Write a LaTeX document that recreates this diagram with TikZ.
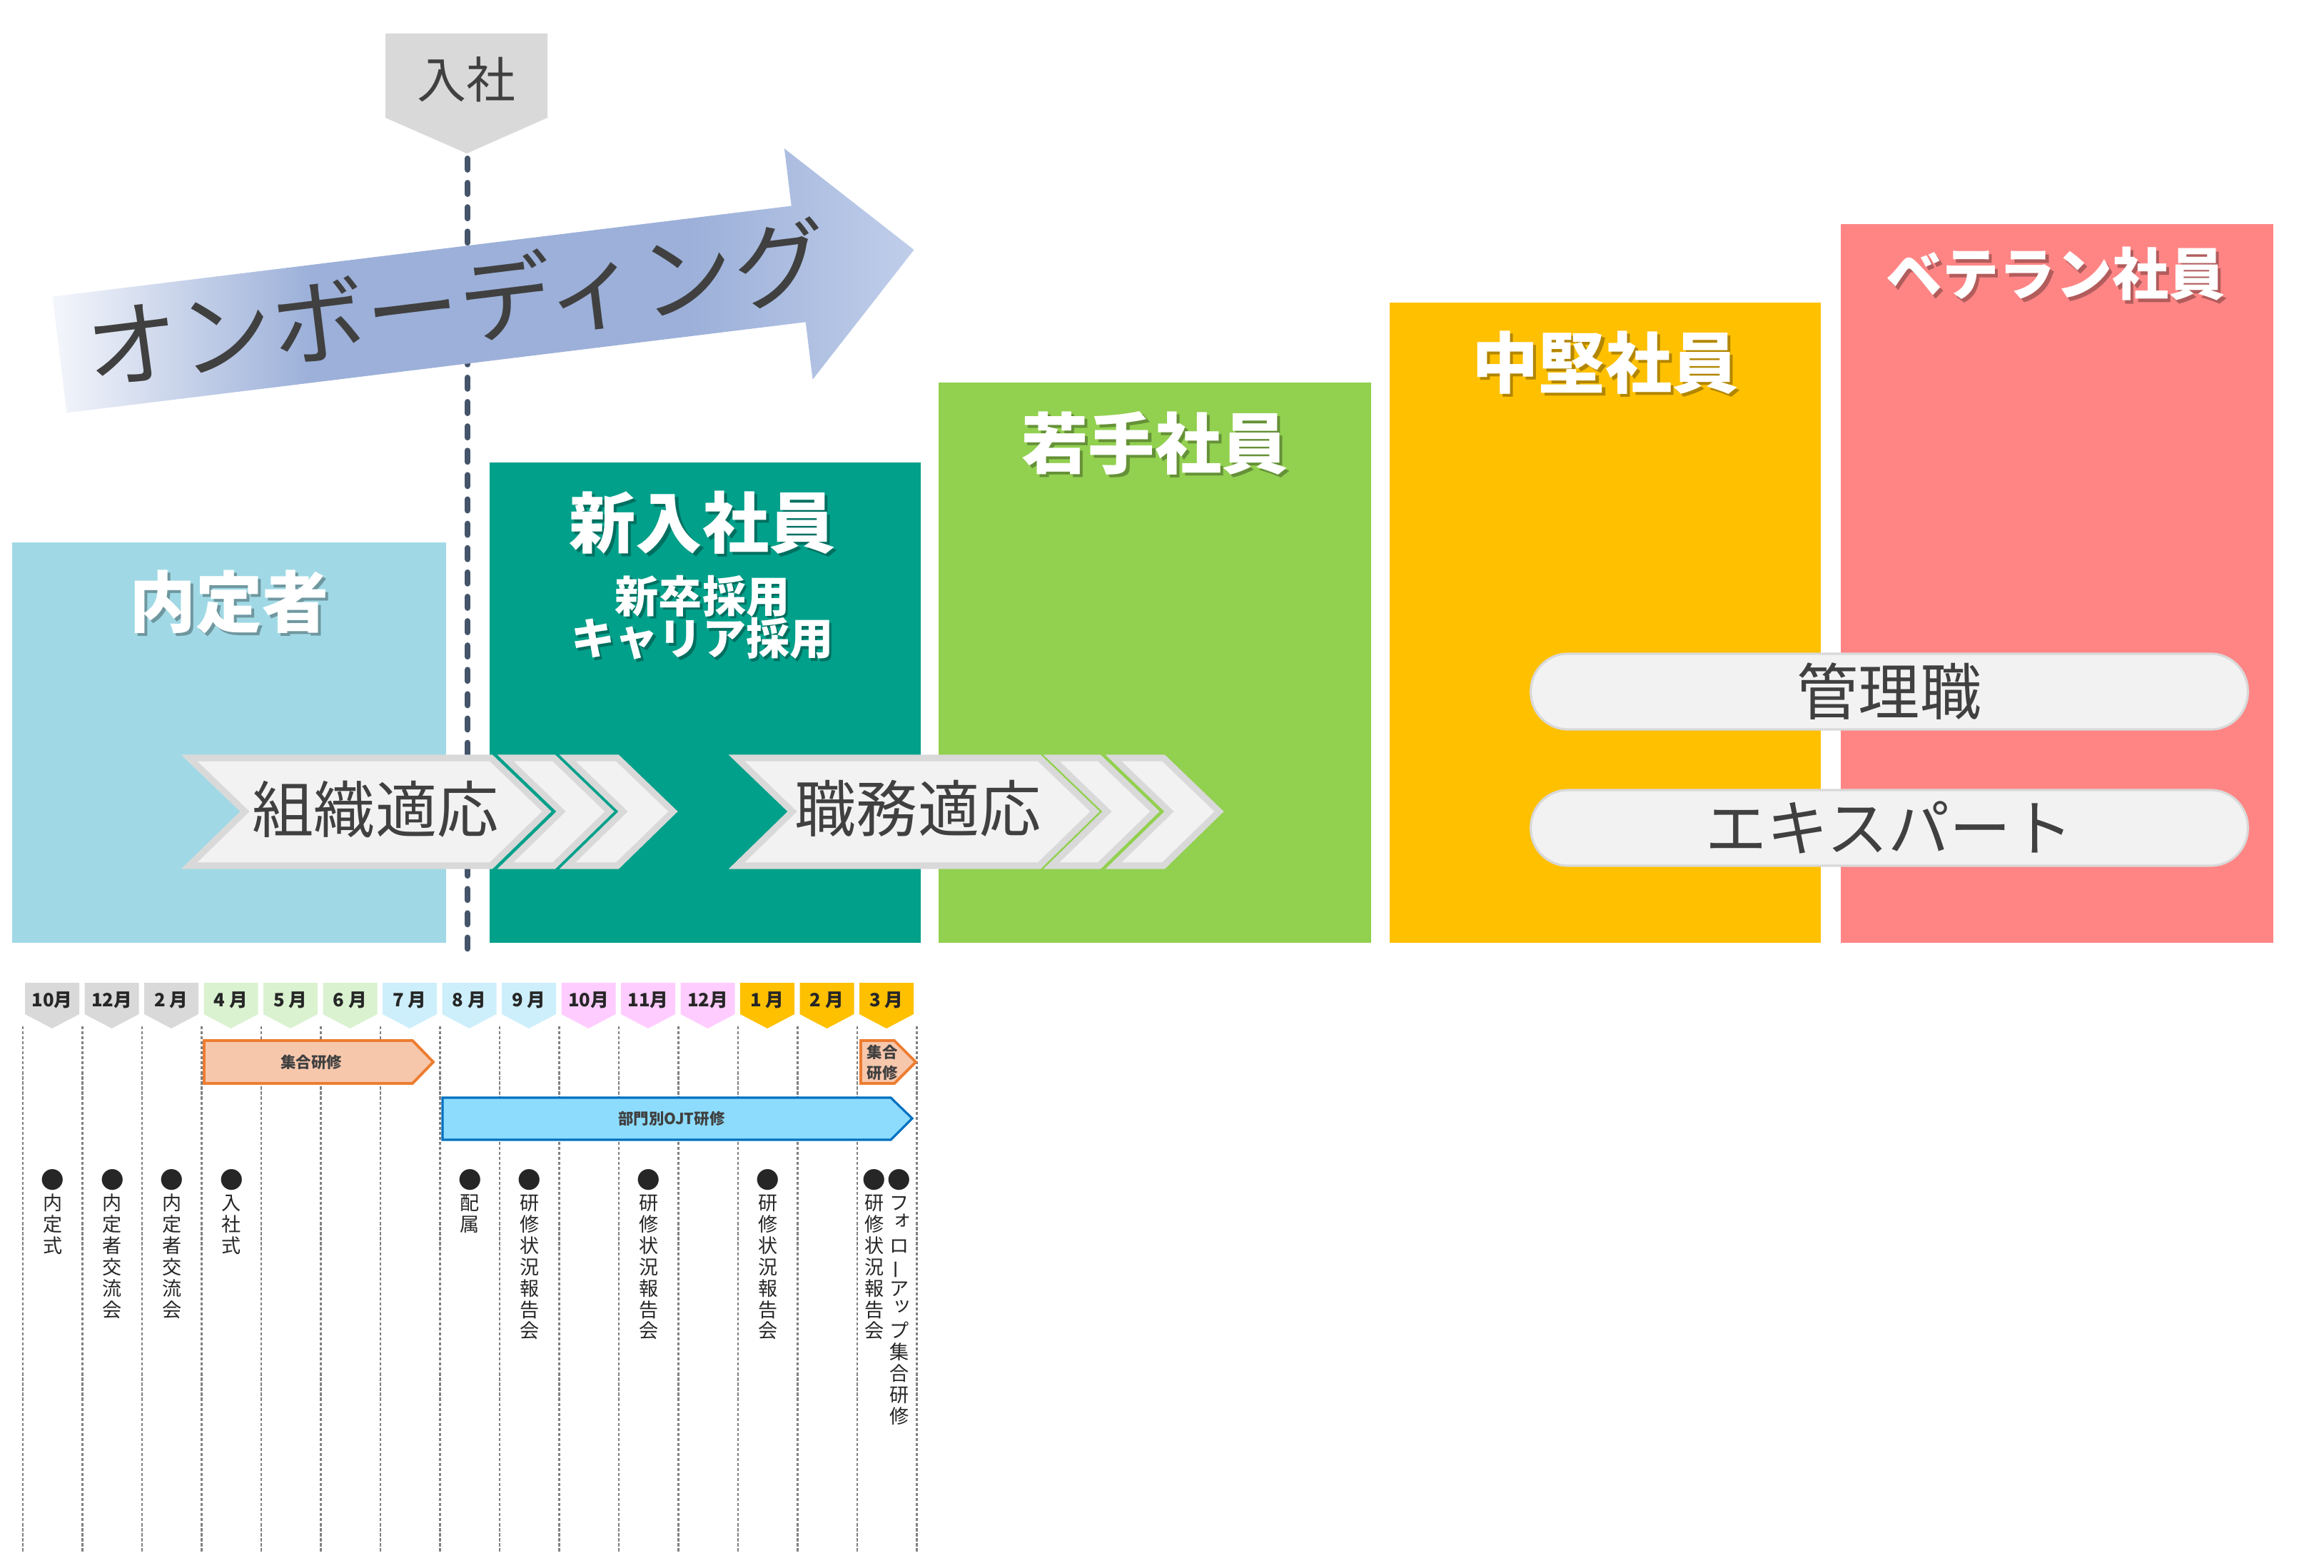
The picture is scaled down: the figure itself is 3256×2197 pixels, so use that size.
\documentclass[tikz,border=0pt]{standalone}
\usepackage{fontspec}
\setmainfont{Noto Sans CJK JP}

\definecolor{cNaitei}{HTML}{A0D9E5}
\definecolor{cShinnyu}{HTML}{00A08A}
\definecolor{cWakate}{HTML}{92D050}
\definecolor{cChuken}{HTML}{FFC000}
\definecolor{cVeteran}{HTML}{FF8585}
\definecolor{cText}{HTML}{404040}
\definecolor{cLine}{HTML}{44546A}
\definecolor{cChevF}{HTML}{F2F2F2}
\definecolor{cChevD}{HTML}{D9D9D9}
\definecolor{onbL}{HTML}{F4F6FB}
\definecolor{onbM}{HTML}{9CB0D9}
\definecolor{onbR}{HTML}{C0CEEA}
\definecolor{tgGray}{HTML}{D9D9D9}
\definecolor{tgGreen}{HTML}{DAF2D0}
\definecolor{tgBlue}{HTML}{CDEFFB}
\definecolor{tgPink}{HTML}{FFCCFF}
\definecolor{tgGold}{HTML}{FFC000}
\definecolor{orgF}{HTML}{F7C7AC}
\definecolor{orgD}{HTML}{ED7D31}
\definecolor{bluF}{HTML}{8DDCFD}
\definecolor{bluD}{HTML}{0070C0}

\pgfdeclarehorizontalshading{onbshade}{100bp}{color(0bp)=(onbL); color(25bp)=(onbL); color(40bp)=(onbM); color(62bp)=(onbM); color(75bp)=(onbR); color(100bp)=(onbR)}

% chevron: left edge, right edge of the straight part
\newcommand{\chevron}[2]{%
  \filldraw[chev] (#1,1062) -- (#2,1062) -- ({#2+78},1137) -- (#2,1213) -- (#1,1213) -- ({#1+78},1137) -- cycle;}
% bullet, small kana and long bar in vertical text
\newcommand{\tdot}{\smash{\scalebox{1.2}{●}}}
\newcommand{\tsk}[1]{\hspace{0.3em}\smash{\raisebox{0.28em}{#1}}}
\newcommand{\tbar}{\smash{\rotatebox[origin=c]{90}{ー}}}

\begin{document}
\begin{tikzpicture}[x=0.01cm, y=-0.01cm, line join=round,
    ttl/.style={font=\bfseries\fontsize{26.5pt}{30pt}\selectfont, text=white, inner sep=0},
    ttlsh/.style={ttl, text=black, opacity=0.3, xshift=1.2pt, yshift=-1.2pt},
    sub/.style={ttl, font=\bfseries\fontsize{17.4pt}{20pt}\selectfont},
    subsh/.style={sub, text=black, opacity=0.3, xshift=1pt, yshift=-1pt},
    lbl/.style={font=\fontsize{24.5pt}{28pt}\selectfont, text=cText, inner sep=0},
    chev/.style={fill=cChevF, draw=cChevD, line width=2.6pt, line join=miter},
    pill/.style={lbl, draw=cChevD, fill=cChevF, line width=0.9pt, rounded corners=0.52cm,
      minimum width=10.04cm, minimum height=1.06cm},
    grid/.style={black!50, line width=0.7pt, dash pattern=on 1.2pt off 0.8pt},
    mon/.style={font=\bfseries\fontsize{7.3pt}{8pt}\selectfont, text=black!85, inner sep=0},
    orgArr/.style={fill=orgF, draw=orgD, line width=1.1pt, line join=miter},
    bluArr/.style={fill=bluF, draw=bluD, line width=0.9pt, line join=miter},
    arrlbl/.style={font=\bfseries\fontsize{6.1pt}{8.2pt}\selectfont, text=cText, inner sep=0},
    tate/.style={font=\fontsize{7.7pt}{8.5pt}\selectfont, align=center, inner sep=0, anchor=north, text=black!85}]
\useasboundingbox (0,0) rectangle (3256,2197);

% stage boxes
\fill[cNaitei] (17,760) rectangle (625,1321);
\fill[cShinnyu] (686,648) rectangle (1290,1321);
\fill[cWakate] (1315,536) rectangle (1921,1321);
\fill[cChuken] (1947,424) rectangle (2551,1321);
\fill[cVeteran] (2579,314) rectangle (3185,1321);

\foreach \x/\y/\t [count=\i] in {321/843/内定者, 984/732/新入社員, 1618/621/若手社員, 2249/508/中堅社員} {
  \node[ttlsh] (ts\i) at (\x,\y) {\t};
  \node[ttl] (t\i) at (\x,\y) {\t};
}
\node[ttlsh, font=\bfseries\fontsize{22.5pt}{26pt}\selectfont] (ts5) at (2880,384) {ベテラン社員};
\node[ttl, font=\bfseries\fontsize{22.5pt}{26pt}\selectfont] (t5) at (2880,384) {ベテラン社員};
\node[subsh] (s1s) at (984,835) {新卒採用};
\node[sub] (s1) at (984,835) {新卒採用};
\node[subsh] (s2s) at (984,895) {キャリア採用};
\node[sub] (s2) at (984,895) {キャリア採用};

% joining line
\draw[cLine, line width=2.3pt, dash pattern=on 4.5pt off 5.2pt, line cap=round] (655,222) -- (655,1338);
\fill[tgGray] (540,47) -- (767,47) -- (767,165) -- (654,215) -- (540,165) -- cycle;
\node[lbl, font=\fontsize{19.6pt}{22pt}\selectfont] (nyusha) at (653,111) {入社};

% onboarding arrow
\begin{scope}[shift={(83.5,497)}, rotate=7]
  \shade[shading=onbshade] (0,-82) -- (1043,-82) -- (1043,-163) -- (1206,0) -- (1043,163) -- (1043,82) -- (0,82) -- cycle;
  \node[lbl, font=\fontsize{37.5pt}{40pt}\selectfont, transform shape] (onb) at (560,-4) {オンボーディング};
\end{scope}

% adaptation chevrons
\chevron{265}{688} \chevron{708}{776} \chevron{795}{865}
\chevron{1032}{1456} \chevron{1473}{1540} \chevron{1560}{1630}
\node[lbl] (soshiki) at (526,1134) {組織適応};
\node[lbl] (shokumu) at (1286,1133) {職務適応};

% career tracks
\node[pill] (kanri) at (2647,969) {管理職};
\node[pill] (expert) at (2647,1160) {エキスパート};

% timeline grid
\foreach \k in {0,...,15}
  \draw[grid] ({32+83.5*\k},1438) -- ({32+83.5*\k},2174);

% month tags
\foreach \m/\col [count=\k from 0] in {10月/tgGray,12月/tgGray,2 月/tgGray,4 月/tgGreen,5 月/tgGreen,6 月/tgGreen,7 月/tgBlue,8 月/tgBlue,9 月/tgBlue,10月/tgPink,11月/tgPink,12月/tgPink,1 月/tgGold,2 月/tgGold,3 月/tgGold} {
  \fill[\col] ({35+83.5*\k},1377) -- ++(76,0) -- ++(0,44) -- ++(-38,20) -- ++(-38,-20) -- cycle;
  \node[mon] (m\k) at ({73+83.5*\k},1401) {\m};
}

% training bars
\draw[orgArr] (286,1458) -- (578,1458) -- (607,1488) -- (578,1518) -- (286,1518) -- cycle;
\node[arrlbl] (gt1) at (436,1488) {集合研修};
\draw[orgArr] (1206,1458) -- (1253,1458) -- (1283,1488) -- (1253,1518) -- (1206,1518) -- cycle;
\node[arrlbl, align=center] (gt2) at (1236,1489) {集合\\研修};
\draw[bluArr] (620,1538) -- (1248,1538) -- (1278,1567) -- (1248,1597) -- (620,1597) -- cycle;
\node[arrlbl] (ojt) at (941,1567) {部門別OJT研修};

% events
\node[tate] (e0) at (73.75,1665) {\tdot\\内\\定\\式};
\node[tate] (e1) at (157.25,1665) {\tdot\\内\\定\\者\\交\\流\\会};
\node[tate] (e2) at (240.75,1665) {\tdot\\内\\定\\者\\交\\流\\会};
\node[tate] (e3) at (324.25,1665) {\tdot\\入\\社\\式};
\node[tate] (e7) at (658.25,1665) {\tdot\\配\\属};
\node[tate] (e8) at (741.75,1665) {\tdot\\研\\修\\状\\況\\報\\告\\会};
\node[tate] (e10) at (908.75,1665) {\tdot\\研\\修\\状\\況\\報\\告\\会};
\node[tate] (e12) at (1075.75,1665) {\tdot\\研\\修\\状\\況\\報\\告\\会};
\node[tate] (e14a) at (1225,1665) {\tdot\\研\\修\\状\\況\\報\\告\\会};
\node[tate] (e14b) at (1260,1665) {\tdot\\フ\\\tsk{ォ}\\ロ\\\tbar\\ア\\\tsk{ッ}\\プ\\集\\合\\研\\修};
\end{tikzpicture}
\end{document}
